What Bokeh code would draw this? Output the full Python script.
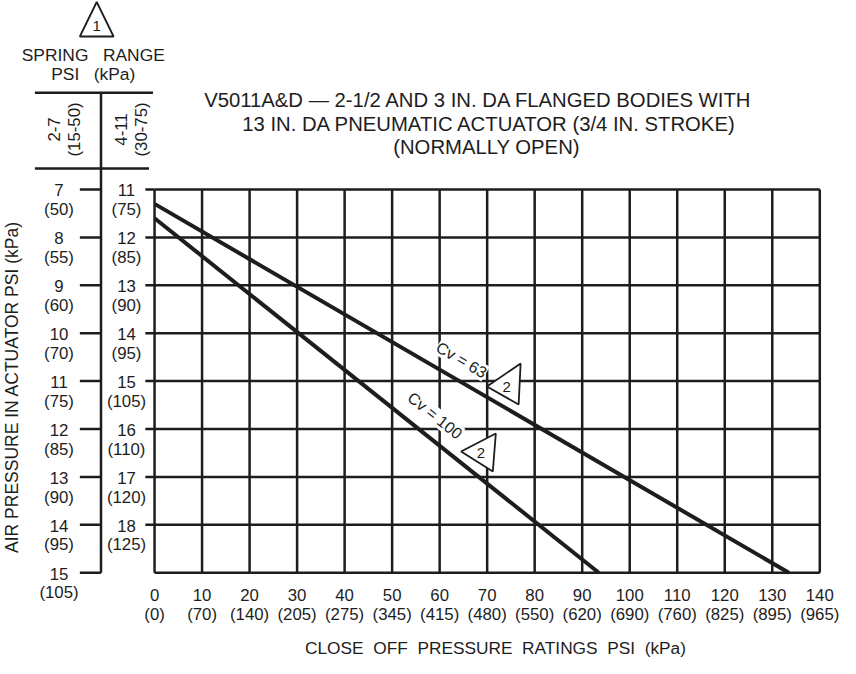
import math
from bokeh.plotting import figure
from bokeh.models import Range1d
from bokeh.core.properties import value
from bokeh.embed import file_html
from bokeh.resources import INLINE

# ---------------- data ----------------
close_off_psi = [0, 10, 20, 30, 40, 50, 60, 70, 80, 90, 100, 110, 120, 130, 140]
close_off_kpa = ["(0)", "(70)", "(140)", "(205)", "(275)", "(345)", "(415)", "(480)",
                 "(550)", "(620)", "(690)", "(760)", "(825)", "(895)", "(965)"]

# spring range 2-7 psi scale (left column)
air_psi_2_7 = [7, 8, 9, 10, 11, 12, 13, 14, 15]
air_kpa_2_7 = ["(50)", "(55)", "(60)", "(70)", "(75)", "(85)", "(90)", "(95)", "(105)"]

# spring range 4-11 psi scale (right column)
air_psi_4_11 = [11, 12, 13, 14, 15, 16, 17, 18]
air_kpa_4_11 = ["(75)", "(85)", "(90)", "(95)", "(105)", "(110)", "(120)", "(125)"]

# rating lines, air pressure in the 2-7 psi scale
cv63_close_off = [0, 133.5]
cv63_air = [7.3, 15.0]
cv100_close_off = [0, 93.5]
cv100_air = [7.6, 15.0]

# ---------------- figure ----------------
INK = "#1d1d1d"
FONT = value("Liberation Sans")
NB = "\u00a0"

Y_TOP, Y_BOT = 3.0543, 16.791
p = figure(width=840, height=658, output_backend="svg", toolbar_location=None, tools="",
           x_range=Range1d(-32.42, 144.36), y_range=Range1d(Y_BOT, Y_TOP),
           x_axis_location=None, y_axis_location=None, min_border=0)
p.outline_line_color = None
p.background_fill_color = "white"
p.border_fill_color = "white"
for g in p.grid:
    g.visible = False
p.extra_y_ranges = {"s411": Range1d(Y_BOT + 4, Y_TOP + 4)}

xmin, xmax = close_off_psi[0], close_off_psi[-1]
ymin, ymax = air_psi_2_7[0], air_psi_2_7[-1]

TICK = value("16.8px")

# grid
p.segment(x0=close_off_psi, y0=[ymin] * len(close_off_psi), x1=close_off_psi,
          y1=[ymax] * len(close_off_psi), line_width=2.5, line_color=INK)
p.segment(x0=[xmin] * len(air_psi_2_7), y0=air_psi_2_7, x1=[xmax] * len(air_psi_2_7),
          y1=air_psi_2_7, line_width=2.5, line_color=INK)

# right column (4-11) ticks and labels
p.segment(x0=[-1.94] * len(air_psi_4_11), y0=air_psi_4_11, x1=[0] * len(air_psi_4_11),
          y1=air_psi_4_11, line_width=2.5, line_color=INK, y_range_name="s411")
p.text(x=[-5.91] * len(air_psi_4_11), y=[v + 0.02 for v in air_psi_4_11],
       text=[str(v) for v in air_psi_4_11], y_range_name="s411",
       text_font=FONT, text_font_size=TICK, text_color=INK,
       text_align="center", text_baseline="middle")
p.text(x=[-5.91] * len(air_psi_4_11), y=[v + 0.42 for v in air_psi_4_11],
       text=air_kpa_4_11, y_range_name="s411",
       text_font=FONT, text_font_size=TICK, text_color=INK,
       text_align="center", text_baseline="middle")

# left column (2-7) axis line, ticks and labels
p.segment(x0=[-11.27], y0=[4.981], x1=[-11.27], y1=[ymax], line_width=2.5, line_color=INK)
p.segment(x0=[-15.72] * len(air_psi_2_7), y0=air_psi_2_7, x1=[-11.27] * len(air_psi_2_7),
          y1=air_psi_2_7, line_width=2.5, line_color=INK)
p.text(x=[-20.1] * len(air_psi_2_7), y=[v + 0.02 for v in air_psi_2_7],
       text=[str(v) for v in air_psi_2_7],
       text_font=FONT, text_font_size=TICK, text_color=INK,
       text_align="center", text_baseline="middle")
p.text(x=[-20.1] * len(air_psi_2_7), y=[v + 0.42 for v in air_psi_2_7],
       text=air_kpa_2_7,
       text_font=FONT, text_font_size=TICK, text_color=INK,
       text_align="center", text_baseline="middle")

# header of spring range columns
p.segment(x0=[-25.18, -25.18], y0=[4.981, 6.562], x1=[-0.33, -1.17], y1=[4.981, 6.562],
          line_width=2.5, line_color=INK)
p.text(x=[-12.9, -12.9], y=[4.182, 4.599],
       text=["SPRING" + NB * 3 + "RANGE", "PSI" + NB * 3 + "(kPa)"],
       text_font=FONT, text_font_size=value("17.4px"), text_color=INK,
       text_align="center", text_baseline="middle")
p.text(x=[-21.15, -16.76, -7.16, -2.78], y=[5.747] * 4,
       text=["2-7", "(15-50)", "4-11", "(30-75)"], angle=math.pi / 2,
       text_font=FONT, text_font_size=value("16.8px"), text_color=INK,
       text_align="center", text_baseline="middle")

# x tick labels
p.text(x=close_off_psi, y=[15.455] * len(close_off_psi), text=[str(v) for v in close_off_psi],
       text_font=FONT, text_font_size=TICK, text_color=INK,
       text_align="center", text_baseline="middle")
p.text(x=close_off_psi, y=[15.873] * len(close_off_psi), text=close_off_kpa,
       text_font=FONT, text_font_size=TICK, text_color=INK,
       text_align="center", text_baseline="middle")

# axis titles
p.text(x=[71.75], y=[16.58],
       text=[(NB * 2).join(["CLOSE", "OFF", "PRESSURE", "RATINGS", "PSI", "(kPa)"])],
       text_font=FONT, text_font_size=value("17.3px"), text_color=INK,
       text_align="center", text_baseline="middle")
p.text(x=[-29.9], y=[11.123], text=["AIR PRESSURE IN ACTUATOR PSI (kPa)"], angle=math.pi / 2,
       text_font=FONT, text_font_size=value("17.5px"), text_color=INK,
       text_align="center", text_baseline="middle")

# chart title
p.text(x=[68.16, 70.5, 69.87], y=[5.132, 5.633, 6.113],
       text=["V5011A&D \u2014 2-1/2 AND 3 IN. DA FLANGED BODIES WITH",
             "13 IN. DA PNEUMATIC ACTUATOR (3/4 IN. STROKE)",
             "(NORMALLY OPEN)"],
       text_font=FONT, text_font_size=value("20.3px"), text_color=INK,
       text_align="center", text_baseline="middle")

# curve labels with white background
p.text(x=[64.6], y=[10.56], text=["Cv = 63"], angle=-0.529,
       text_font=FONT, text_font_size=value("16px"), text_color=INK,
       text_align="center", text_baseline="middle", background_fill_color="white")
p.text(x=[59.0], y=[11.72], text=["Cv = 100"], angle=-0.675,
       text_font=FONT, text_font_size=value("16px"), text_color=INK,
       text_align="center", text_baseline="middle", background_fill_color="white")

# note triangles
p.patches(xs=[[-12.17, -15.72, -8.62], [69.94, 77.04, 76.62], [64.51, 71.82, 71.19]],
          ys=[[3.086, 3.806, 3.806], [11.113, 10.633, 11.489], [12.470, 12.094, 12.887]],
          fill_color="white", line_color=INK, line_width=1.8)
p.text(x=[-12.17, 74.11, 68.68], y=[3.58, 11.113, 12.491], text=["1", "2", "2"],
       text_font=FONT, text_font_size=value("15px"), text_color=INK,
       text_align="center", text_baseline="middle")

# rating lines
p.line(cv63_close_off, cv63_air, line_width=4, line_color=INK)
p.line(cv100_close_off, cv100_air, line_width=4, line_color=INK)

open("out.html", "w").write(file_html(p, INLINE))
